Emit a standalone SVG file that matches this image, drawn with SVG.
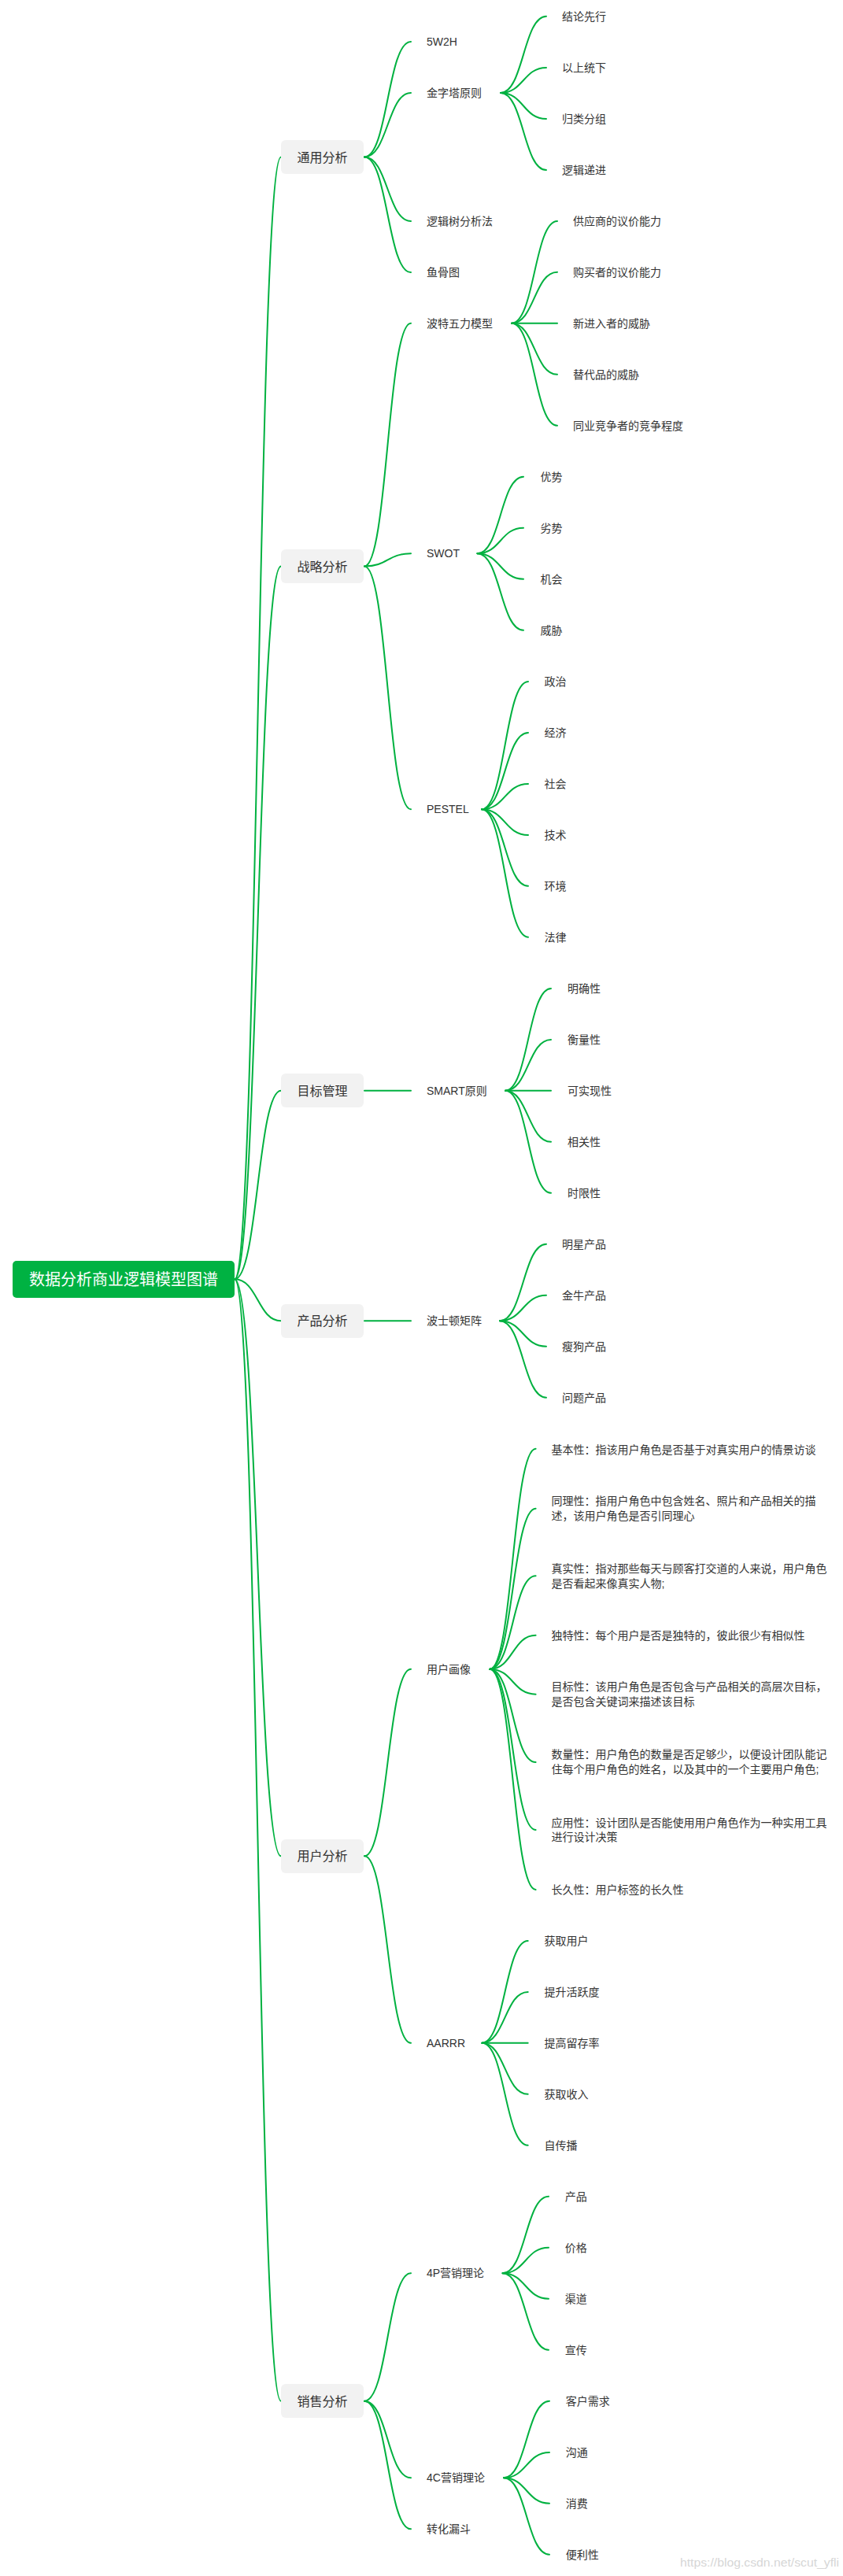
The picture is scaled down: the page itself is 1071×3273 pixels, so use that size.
<svg xmlns="http://www.w3.org/2000/svg" width="1071" height="3273" viewBox="0 0 1071 3273">
<style>
.c{fill:none;stroke:#00b140;stroke-width:2;stroke-linecap:round}
text{font-family:"Liberation Sans","Noto Sans CJK SC",sans-serif;fill:#333}
.t14{font-size:14px}
.t16{font-size:16px;text-anchor:middle}
.box{fill:#f2f2f2}
.root{fill:#00b242}
.rt{font-size:20px;fill:#fff;text-anchor:middle}
.wm{font-size:15px;fill:#d6d6d6}
</style>
<rect width="1071" height="3273" fill="#fff"/>
<g id="connectors">
<path class="c" d="M298,1625.3 C327.5,1625.3 327.5,199.5 357,199.5"/>
<path class="c" d="M298,1625.3 C327.5,1625.3 327.5,719.5 357,719.5"/>
<path class="c" d="M298,1625.3 C327.5,1625.3 327.5,1385.7 357,1385.7"/>
<path class="c" d="M298,1625.3 C327.5,1625.3 327.5,1678.3 357,1678.3"/>
<path class="c" d="M298,1625.3 C327.5,1625.3 327.5,2358.3 357,2358.3"/>
<path class="c" d="M298,1625.3 C327.5,1625.3 327.5,3050.7 357,3050.7"/>
<path class="c" d="M463,199.5 C492.5,199.5 492.5,53 522,53"/>
<path class="c" d="M463,199.5 C492.5,199.5 492.5,118 522,118"/>
<path class="c" d="M463,199.5 C492.5,199.5 492.5,281 522,281"/>
<path class="c" d="M463,199.5 C492.5,199.5 492.5,346 522,346"/>
<path class="c" d="M463,719.5 C492.5,719.5 492.5,410.7 522,410.7"/>
<path class="c" d="M463,719.5 C492.5,719.5 492.5,703.3 522,703.3"/>
<path class="c" d="M463,719.5 C492.5,719.5 492.5,1028.3 522,1028.3"/>
<path class="c" d="M463,1385.7 L522,1385.7"/>
<path class="c" d="M463,1678.3 L522,1678.3"/>
<path class="c" d="M463,2358.3 C492.5,2358.3 492.5,2120.7 522,2120.7"/>
<path class="c" d="M463,2358.3 C492.5,2358.3 492.5,2595.7 522,2595.7"/>
<path class="c" d="M463,3050.7 C492.5,3050.7 492.5,2888.3 522,2888.3"/>
<path class="c" d="M463,3050.7 C492.5,3050.7 492.5,3148.3 522,3148.3"/>
<path class="c" d="M463,3050.7 C492.5,3050.7 492.5,3213.3 522,3213.3"/>
<path class="c" d="M636,118 C665,118 665,20.7 694,20.7"/>
<path class="c" d="M636,118 C665,118 665,86 694,86"/>
<path class="c" d="M636,118 C665,118 665,151 694,151"/>
<path class="c" d="M636,118 C665,118 665,216 694,216"/>
<path class="c" d="M650,410.7 C679,410.7 679,281 708,281"/>
<path class="c" d="M650,410.7 C679,410.7 679,345.7 708,345.7"/>
<path class="c" d="M650,410.7 L708,410.7"/>
<path class="c" d="M650,410.7 C679,410.7 679,475.7 708,475.7"/>
<path class="c" d="M650,410.7 C679,410.7 679,540.7 708,540.7"/>
<path class="c" d="M606.5,703.3 C635.8,703.3 635.8,605.7 665,605.7"/>
<path class="c" d="M606.5,703.3 C635.8,703.3 635.8,670.7 665,670.7"/>
<path class="c" d="M606.5,703.3 C635.8,703.3 635.8,735.7 665,735.7"/>
<path class="c" d="M606.5,703.3 C635.8,703.3 635.8,800.7 665,800.7"/>
<path class="c" d="M612,1028.3 C641.5,1028.3 641.5,866 671,866"/>
<path class="c" d="M612,1028.3 C641.5,1028.3 641.5,931 671,931"/>
<path class="c" d="M612,1028.3 C641.5,1028.3 641.5,996 671,996"/>
<path class="c" d="M612,1028.3 C641.5,1028.3 641.5,1061 671,1061"/>
<path class="c" d="M612,1028.3 C641.5,1028.3 641.5,1125.7 671,1125.7"/>
<path class="c" d="M612,1028.3 C641.5,1028.3 641.5,1190.7 671,1190.7"/>
<path class="c" d="M642,1385.7 C671,1385.7 671,1256 700,1256"/>
<path class="c" d="M642,1385.7 C671,1385.7 671,1321 700,1321"/>
<path class="c" d="M642,1385.7 L700,1385.7"/>
<path class="c" d="M642,1385.7 C671,1385.7 671,1450.7 700,1450.7"/>
<path class="c" d="M642,1385.7 C671,1385.7 671,1515.7 700,1515.7"/>
<path class="c" d="M635,1678.3 C664.5,1678.3 664.5,1580.7 694,1580.7"/>
<path class="c" d="M635,1678.3 C664.5,1678.3 664.5,1645.7 694,1645.7"/>
<path class="c" d="M635,1678.3 C664.5,1678.3 664.5,1710.7 694,1710.7"/>
<path class="c" d="M635,1678.3 C664.5,1678.3 664.5,1775.7 694,1775.7"/>
<path class="c" d="M622.3,2120.7 C651.5,2120.7 651.5,1840.7 680.6,1840.7"/>
<path class="c" d="M622.3,2120.7 C651.5,2120.7 651.5,1916.7 680.6,1916.7"/>
<path class="c" d="M622.3,2120.7 C651.5,2120.7 651.5,2002.3 680.6,2002.3"/>
<path class="c" d="M622.3,2120.7 C651.5,2120.7 651.5,2077.7 680.6,2077.7"/>
<path class="c" d="M622.3,2120.7 C651.5,2120.7 651.5,2152.7 680.6,2152.7"/>
<path class="c" d="M622.3,2120.7 C651.5,2120.7 651.5,2239 680.6,2239"/>
<path class="c" d="M622.3,2120.7 C651.5,2120.7 651.5,2325 680.6,2325"/>
<path class="c" d="M622.3,2120.7 C651.5,2120.7 651.5,2401 680.6,2401"/>
<path class="c" d="M612.4,2595.7 C641.5,2595.7 641.5,2466 670.7,2466"/>
<path class="c" d="M612.4,2595.7 C641.5,2595.7 641.5,2531 670.7,2531"/>
<path class="c" d="M612.4,2595.7 L670.7,2595.7"/>
<path class="c" d="M612.4,2595.7 C641.5,2595.7 641.5,2660.7 670.7,2660.7"/>
<path class="c" d="M612.4,2595.7 C641.5,2595.7 641.5,2725.7 670.7,2725.7"/>
<path class="c" d="M638.6,2888.3 C667.8,2888.3 667.8,2790.7 697,2790.7"/>
<path class="c" d="M638.6,2888.3 C667.8,2888.3 667.8,2855.7 697,2855.7"/>
<path class="c" d="M638.6,2888.3 C667.8,2888.3 667.8,2920.7 697,2920.7"/>
<path class="c" d="M638.6,2888.3 C667.8,2888.3 667.8,2985.7 697,2985.7"/>
<path class="c" d="M640,3148.3 C669,3148.3 669,3050.7 698,3050.7"/>
<path class="c" d="M640,3148.3 C669,3148.3 669,3116 698,3116"/>
<path class="c" d="M640,3148.3 C669,3148.3 669,3180.7 698,3180.7"/>
<path class="c" d="M640,3148.3 C669,3148.3 669,3245.7 698,3245.7"/>
</g>
<g id="root"><rect class="root" x="16" y="1602" width="282" height="47" rx="5"/><text class="rt" x="157" y="1632.5">数据分析商业逻辑模型图谱</text></g>
<g id="n-tongyong"><rect class="box" x="357" y="178" width="105" height="43" rx="6"/><text class="t16" x="409.5" y="205.5">通用分析</text></g>
<g id="n-zhanlue"><rect class="box" x="357" y="698" width="105" height="43" rx="6"/><text class="t16" x="409.5" y="725.5">战略分析</text></g>
<g id="n-mubiao"><rect class="box" x="357" y="1364" width="105" height="43" rx="6"/><text class="t16" x="409.5" y="1391.7">目标管理</text></g>
<g id="n-chanpin"><rect class="box" x="357" y="1657" width="105" height="43" rx="6"/><text class="t16" x="409.5" y="1684.3">产品分析</text></g>
<g id="n-yonghu"><rect class="box" x="357" y="2337" width="105" height="43" rx="6"/><text class="t16" x="409.5" y="2364.3">用户分析</text></g>
<g id="n-xiaoshou"><rect class="box" x="357" y="3029" width="105" height="43" rx="6"/><text class="t16" x="409.5" y="3056.7">销售分析</text></g>
<g id="n-5w2h"><text class="t14" x="542" y="58">5W2H</text></g>
<g id="n-jinzita"><text class="t14" x="542" y="123">金字塔原则</text></g>
<g id="n-luojishu"><text class="t14" x="542" y="286">逻辑树分析法</text></g>
<g id="n-yugu"><text class="t14" x="542" y="351">鱼骨图</text></g>
<g id="n-bote"><text class="t14" x="542" y="415.7">波特五力模型</text></g>
<g id="n-swot"><text class="t14" x="542" y="708.3">SWOT</text></g>
<g id="n-pestel"><text class="t14" x="542" y="1033.3">PESTEL</text></g>
<g id="n-smart"><text class="t14" x="542" y="1390.7">SMART原则</text></g>
<g id="n-boshidun"><text class="t14" x="542" y="1683.3">波士顿矩阵</text></g>
<g id="n-huaxiang"><text class="t14" x="542" y="2125.7">用户画像</text></g>
<g id="n-aarrr"><text class="t14" x="542" y="2600.7">AARRR</text></g>
<g id="n-4p"><text class="t14" x="542" y="2893.3">4P营销理论</text></g>
<g id="n-4c"><text class="t14" x="542" y="3153.3">4C营销理论</text></g>
<g id="n-loudou"><text class="t14" x="542" y="3218.3">转化漏斗</text></g>
<g id="n-jz1"><text class="t14" x="714" y="25.7">结论先行</text></g>
<g id="n-jz2"><text class="t14" x="714" y="91">以上统下</text></g>
<g id="n-jz3"><text class="t14" x="714" y="156">归类分组</text></g>
<g id="n-jz4"><text class="t14" x="714" y="221">逻辑递进</text></g>
<g id="n-bt1"><text class="t14" x="728" y="286">供应商的议价能力</text></g>
<g id="n-bt2"><text class="t14" x="728" y="350.7">购买者的议价能力</text></g>
<g id="n-bt3"><text class="t14" x="728" y="415.7">新进入者的威胁</text></g>
<g id="n-bt4"><text class="t14" x="728" y="480.7">替代品的威胁</text></g>
<g id="n-bt5"><text class="t14" x="728" y="545.7">同业竞争者的竞争程度</text></g>
<g id="n-sw1"><text class="t14" x="686.5" y="610.7">优势</text></g>
<g id="n-sw2"><text class="t14" x="686.5" y="675.7">劣势</text></g>
<g id="n-sw3"><text class="t14" x="686.5" y="740.7">机会</text></g>
<g id="n-sw4"><text class="t14" x="686.5" y="805.7">威胁</text></g>
<g id="n-pe1"><text class="t14" x="691.5" y="871">政治</text></g>
<g id="n-pe2"><text class="t14" x="691.5" y="936">经济</text></g>
<g id="n-pe3"><text class="t14" x="691.5" y="1001">社会</text></g>
<g id="n-pe4"><text class="t14" x="691.5" y="1066">技术</text></g>
<g id="n-pe5"><text class="t14" x="691.5" y="1130.7">环境</text></g>
<g id="n-pe6"><text class="t14" x="691.5" y="1195.7">法律</text></g>
<g id="n-sm1"><text class="t14" x="721" y="1261">明确性</text></g>
<g id="n-sm2"><text class="t14" x="721" y="1326">衡量性</text></g>
<g id="n-sm3"><text class="t14" x="721" y="1390.7">可实现性</text></g>
<g id="n-sm4"><text class="t14" x="721" y="1455.7">相关性</text></g>
<g id="n-sm5"><text class="t14" x="721" y="1520.7">时限性</text></g>
<g id="n-bs1"><text class="t14" x="714" y="1585.7">明星产品</text></g>
<g id="n-bs2"><text class="t14" x="714" y="1650.7">金牛产品</text></g>
<g id="n-bs3"><text class="t14" x="714" y="1715.7">瘦狗产品</text></g>
<g id="n-bs4"><text class="t14" x="714" y="1780.7">问题产品</text></g>
<g id="n-hx1"><text class="t14" x="700.4" y="1846.7">基本性：指该用户角色是否基于对真实用户的情景访谈</text></g>
<g id="n-hx2"><text class="t14" x="700.4" y="1911.7">同理性：指用户角色中包含姓名、照片和产品相关的描<tspan x="700.4" y="1931">述，该用户角色是否引同理心</tspan></text></g>
<g id="n-hx3"><text class="t14" x="700.4" y="1997.7">真实性：指对那些每天与顾客打交道的人来说，用户角色<tspan x="700.4" y="2016.7">是否看起来像真实人物;</tspan></text></g>
<g id="n-hx4"><text class="t14" x="700.4" y="2082.7">独特性：每个用户是否是独特的，彼此很少有相似性</text></g>
<g id="n-hx5"><text class="t14" x="700.4" y="2148.3">目标性：该用户角色是否包含与产品相关的高层次目标，<tspan x="700.4" y="2167.3">是否包含关键词来描述该目标</tspan></text></g>
<g id="n-hx6"><text class="t14" x="700.4" y="2234.3">数量性：用户角色的数量是否足够少，以便设计团队能记<tspan x="700.4" y="2253.3">住每个用户角色的姓名，以及其中的一个主要用户角色;</tspan></text></g>
<g id="n-hx7"><text class="t14" x="700.4" y="2320.7">应用性：设计团队是否能使用用户角色作为一种实用工具<tspan x="700.4" y="2339.3">进行设计决策</tspan></text></g>
<g id="n-hx8"><text class="t14" x="700.4" y="2406">长久性：用户标签的长久性</text></g>
<g id="n-aa1"><text class="t14" x="691.5" y="2471">获取用户</text></g>
<g id="n-aa2"><text class="t14" x="691.5" y="2536">提升活跃度</text></g>
<g id="n-aa3"><text class="t14" x="691.5" y="2600.7">提高留存率</text></g>
<g id="n-aa4"><text class="t14" x="691.5" y="2665.7">获取收入</text></g>
<g id="n-aa5"><text class="t14" x="691.5" y="2730.7">自传播</text></g>
<g id="n-4p1"><text class="t14" x="717.7" y="2795.7">产品</text></g>
<g id="n-4p2"><text class="t14" x="717.7" y="2860.7">价格</text></g>
<g id="n-4p3"><text class="t14" x="717.7" y="2925.7">渠道</text></g>
<g id="n-4p4"><text class="t14" x="717.7" y="2990.7">宣传</text></g>
<g id="n-4c1"><text class="t14" x="718.7" y="3055.7">客户需求</text></g>
<g id="n-4c2"><text class="t14" x="718.7" y="3121">沟通</text></g>
<g id="n-4c3"><text class="t14" x="718.7" y="3185.7">消费</text></g>
<g id="n-4c4"><text class="t14" x="718.7" y="3250.7">便利性</text></g>
<text class="wm" x="864" y="3261" textLength="202" lengthAdjust="spacingAndGlyphs">https://blog.csdn.net/scut_yfli</text>
</svg>
